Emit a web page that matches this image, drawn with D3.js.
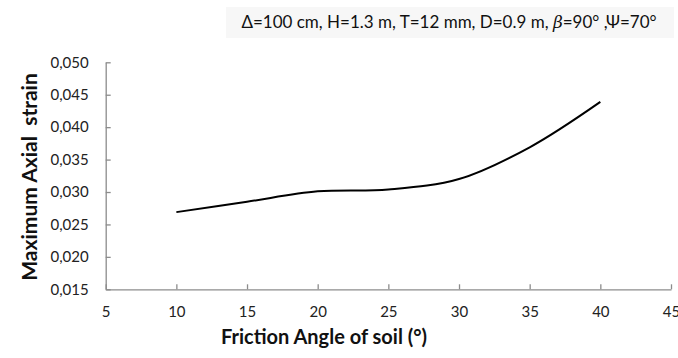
<!DOCTYPE html>
<html>
<head>
<meta charset="utf-8">
<script src="https://cdn.jsdelivr.net/npm/d3@7"></script>
<style>
  body { margin: 0; background: #fff; }
  svg { display: block; font-family: Lato, "Open Sans", sans-serif; }
</style>
</head>
<body>
<div id="chart"></div>
<script>
// data
const frictionAngle = [10, 15, 20, 25, 30, 35, 40];
const axialStrain = [0.0269, 0.0285, 0.0301, 0.0304, 0.0320, 0.0369, 0.0439];
const xTicks = [5, 10, 15, 20, 25, 30, 35, 40, 45];
const yTicks = [0.015, 0.020, 0.025, 0.030, 0.035, 0.040, 0.045, 0.050];
const titleText = "\u0394=100 cm, H=1.3 m, T=12 mm, D=0.9 m, ";

const W = 678, H = 358;
const margin = {top: 62.3, right: 7, bottom: 68.7, left: 105.7},
  width = W - margin.left - margin.right,
  height = H - margin.top - margin.bottom;

const root = d3.select("#chart").append("svg")
  .attr("width", W).attr("height", H);

// title, on a faint grey patch
root.append("rect")
  .attr("x", 226).attr("y", 7)
  .attr("width", 448).attr("height", 31)
  .attr("fill", "#f7f7f7");

const title = root.append("text")
  .attr("x", 449).attr("y", 28)
  .attr("text-anchor", "middle")
  .attr("font-size", 17)
  .attr("fill", "#111");
title.append("tspan").text(titleText);
title.append("tspan").attr("font-style", "italic").attr("font-family", "DejaVu Serif").text("\u03B2");
title.append("tspan").text("=90\u00B0 ,\u03A8=70\u00B0");

const svg = root.append("g")
  .attr("transform", `translate(${margin.left},${margin.top})`);

const x = d3.scaleLinear().domain([5, 45]).range([0, width]);
const y = d3.scaleLinear().domain([0.015, 0.050]).range([height, 0]);

const fmt = d => d3.format(".3f")(d).replace(".", ",");

const xAxis = svg.append("g")
  .attr("transform", `translate(0,${height})`)
  .call(d3.axisBottom(x).tickValues(xTicks).tickSize(-5).tickSizeOuter(0).tickPadding(17));

const yAxis = svg.append("g")
  .call(d3.axisLeft(y).tickValues(yTicks).tickSize(-5).tickSizeOuter(0).tickPadding(17).tickFormat(fmt));

[xAxis, yAxis].forEach(a => {
  a.select(".domain").attr("stroke", "#8c8c8c").attr("stroke-width", 1.3);
  a.selectAll(".tick line").attr("stroke", "#8c8c8c").attr("stroke-width", 1.3);
  a.selectAll(".tick text").attr("font-size", 15).attr("fill", "#222")
    .attr("font-family", "Lato, 'Open Sans', sans-serif");
});

// the curve
const pts = frictionAngle.map((a, i) => ({a: a, v: axialStrain[i]}));
svg.append("path")
  .datum(pts)
  .attr("fill", "none")
  .attr("stroke", "#000")
  .attr("stroke-width", 2)
  .attr("d", d3.line()
    .x(d => x(d.a))
    .y(d => y(d.v))
    .curve(d3.curveCatmullRom.alpha(0.5)));

// axis titles
root.append("text")
  .attr("x", 324).attr("y", 344)
  .attr("text-anchor", "middle")
  .attr("font-size", 20).attr("font-weight", "bold")
  .attr("fill", "#111")
  .text("Friction Angle of soil (\u00B0)");

root.append("text")
  .attr("transform", "translate(37,177) rotate(-90)")
  .attr("text-anchor", "middle")
  .attr("font-size", 21).attr("font-weight", "bold")
  .attr("fill", "#111")
  .attr("xml:space", "preserve")
  .style("white-space", "pre")
  .text("Maximum Axial  strain");
</script>
</body>
</html>
